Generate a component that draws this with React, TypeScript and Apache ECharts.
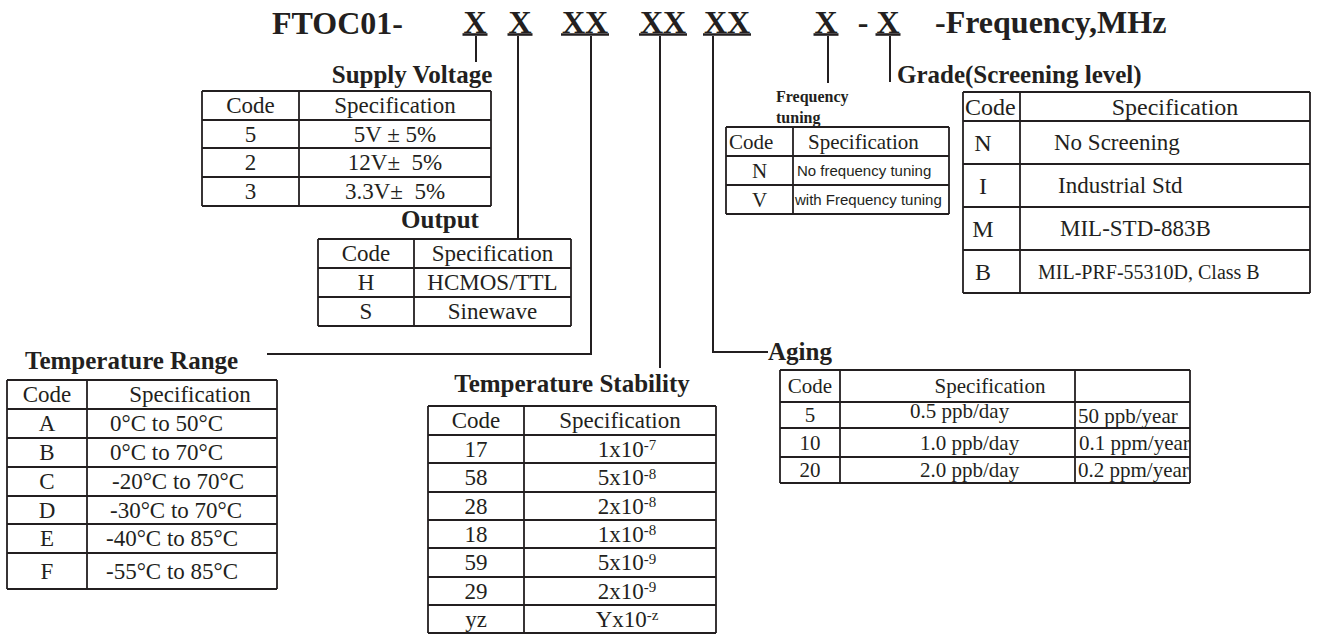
import React, { useEffect, useRef } from "react";
import * as echarts from "echarts";

// ---------- DATA ----------
const titlePrefix = "FTOC01-";
const titleSegments = ["X", "X", "XX", "XX", "XX", "X", "X"];
const titleSuffix = "-Frequency,MHz";

const headerCode = "Code";
const headerSpec = "Specification";

const supplyCodes = ["5", "2", "3"];
const supplySpecs = ["5V ± 5%", "12V±  5%", "3.3V±  5%"];

const outputCodes = ["H", "S"];
const outputSpecs = ["HCMOS/TTL", "Sinewave"];

const tempRangeCodes = ["A", "B", "C", "D", "E", "F"];
const tempRangeSpecs = ["0°C to 50°C", "0°C to 70°C", "-20°C to 70°C", "-30°C to 70°C", "-40°C to 85°C", "-55°C to 85°C"];

const stabilityCodes = ["17", "58", "28", "18", "59", "29", "yz"];
const stabilityMantissas = ["1x10", "5x10", "2x10", "1x10", "5x10", "2x10", "Yx10"];
const stabilityExponents = ["-7", "-8", "-8", "-8", "-9", "-9", "-z"];

const agingCodes = ["5", "10", "20"];
const agingDaily = ["0.5 ppb/day", "1.0 ppb/day", "2.0 ppb/day"];
const agingYearly = ["50 ppb/year", "0.1 ppm/year", "0.2 ppm/year"];

const tuningCodes = ["N", "V"];
const tuningSpecs = ["No frequency tuning", "with Frequency tuning"];

const gradeCodes = ["N", "I", "M", "B"];
const gradeSpecs = ["No Screening", "Industrial Std", "MIL-STD-883B", "MIL-PRF-55310D, Class B"];

const labels = {
  supply: "Supply Voltage",
  output: "Output",
  tempRange: "Temperature Range",
  stability: "Temperature Stability",
  aging: "Aging",
  grade: "Grade(Screening level)",
  tuning1: "Frequency",
  tuning2: "tuning",
};

// ---------- LAYOUT ----------
const SERIF = '"Liberation Serif", "Times New Roman", Times, serif';
const SANS = '"Liberation Sans", Arial, sans-serif';
const INK = "#231f20";

const T = {
  supply: { cols: [202, 299, 491], rows: [91, 120, 148, 177, 206] },
  output: { cols: [318, 414, 571], rows: [239, 268, 297, 326] },
  tempRange: { cols: [7, 87, 277], rows: [380, 409, 438, 467, 496, 524, 553, 589] },
  stability: { cols: [428, 524, 716], rows: [406, 435, 463, 492, 520, 548, 577, 605, 633] },
  tuning: { cols: [726, 793, 949], rows: [127, 156, 185, 214] },
  grade: { cols: [963, 1020, 1310], rows: [92, 121, 164, 207, 250, 293] },
  aging: { cols: [780, 840, 1075, 1190], rows: [370, 402, 428, 457, 483] },
};

const segCenters = [475, 520, 585, 663, 727, 826, 888];

function line(x1: number, y1: number, x2: number, y2: number, lw = 1.8) {
  return { type: "line", silent: true, shape: { x1, y1, x2, y2 }, style: { stroke: INK, lineWidth: lw } };
}
function polyline(points: number[][], lw = 1.8) {
  return { type: "polyline", silent: true, shape: { points }, style: { stroke: INK, lineWidth: lw, fill: null } };
}
function txt(text: string, x: number, y: number, size: number, o: any = {}) {
  return {
    type: "text",
    silent: true,
    x,
    y,
    style: {
      text,
      fill: INK,
      fontSize: size,
      fontFamily: o.family || SERIF,
      fontWeight: o.weight || "normal",
      align: o.align || "center",
      verticalAlign: "middle",
      rich: o.rich,
    },
  };
}

type Col = {
  header: string;
  values: string[];
  align?: string;
  x?: number | number[];
  size?: number;
  sizes?: number[];
  family?: string;
  hx?: number;
  halign?: string;
  hsize?: number;
  rich?: any;
  dy?: number[];
};

function table(t: { cols: number[]; rows: number[] }, columns: Col[], lw = 1.8) {
  const els: any[] = [];
  const { cols, rows } = t;
  const x0 = cols[0], x1 = cols[cols.length - 1];
  const y0 = rows[0], y1 = rows[rows.length - 1];
  rows.forEach((y) => els.push(line(x0, y, x1, y, lw)));
  cols.forEach((x) => els.push(line(x, y0, x, y1, lw)));
  columns.forEach((c, j) => {
    const cx = (cols[j] + cols[j + 1]) / 2;
    const size = c.size || 22;
    if (c.header) {
      els.push(txt(c.header, c.hx ?? cx, (rows[0] + rows[1]) / 2, c.hsize || size, { align: c.halign || "center" }));
    }
    c.values.forEach((v, i) => {
      const cy = (rows[i + 1] + rows[i + 2]) / 2 + (c.dy ? c.dy[i] : 0);
      const xx = Array.isArray(c.x) ? c.x[i] : c.x ?? cx;
      const sz = c.sizes ? c.sizes[i] : size;
      els.push(txt(v, xx, cy, sz, { align: c.align || "center", family: c.family, rich: c.rich }));
    });
  });
  return els;
}

function buildElements() {
  const els: any[] = [];
  els.push({ type: "rect", silent: true, shape: { x: 0, y: 0, width: 1319, height: 641 }, style: { fill: "#fff" } });

  // title row
  const TY = 22;
  els.push(txt(titlePrefix, 272, TY + 1, 32, { weight: "bold", align: "left" }));
  titleSegments.forEach((s, i) => {
    const c = segCenters[i];
    els.push(txt(s, c, TY, 32, { weight: "bold" }));
    const hw = s.length * 11.5 + 1;
    els.push(line(c - hw, 34.5, c + hw, 34.5, 2.6));
  });
  els.push(txt("-", 863, TY, 32, { weight: "bold" }));
  els.push(txt(titleSuffix, 935, TY, 32, { weight: "bold", align: "left" }));

  // connectors
  els.push(line(476, 36, 476, 62, 2));
  els.push(line(518, 36, 518, 239, 2));
  els.push(polyline([[591, 36], [591, 354], [267, 354]], 2));
  els.push(line(660, 36, 660, 368, 2));
  els.push(polyline([[713, 36], [713, 352], [768, 352]], 2));
  els.push(line(828, 36, 828, 83, 2));
  els.push(line(890, 36, 890, 82, 2));

  // bold labels
  els.push(txt(labels.supply, 412, 74, 25, { weight: "bold" }));
  els.push(txt(labels.output, 440, 219, 25, { weight: "bold" }));
  els.push(txt(labels.tempRange, 25, 360, 25, { weight: "bold", align: "left" }));
  els.push(txt(labels.stability, 572, 383, 25, { weight: "bold" }));
  els.push(txt(labels.aging, 768, 351, 25, { weight: "bold", align: "left" }));
  els.push(txt(labels.grade, 897, 74, 25, { weight: "bold", align: "left" }));
  els.push(txt(labels.tuning1, 776, 96, 16, { weight: "bold", align: "left" }));
  els.push(txt(labels.tuning2, 776, 117, 16, { weight: "bold", align: "left" }));

  // tables
  els.push(
    ...table(T.supply, [
      { header: headerCode, values: supplyCodes, size: 23 },
      { header: headerSpec, values: supplySpecs, size: 23 },
    ])
  );
  els.push(
    ...table(T.output, [
      { header: headerCode, values: outputCodes, size: 23 },
      { header: headerSpec, values: outputSpecs, size: 23 },
    ])
  );
  els.push(
    ...table(T.tempRange, [
      { header: headerCode, values: tempRangeCodes, size: 23 },
      { header: headerSpec, values: tempRangeSpecs, size: 23, align: "left", x: [110, 110, 112, 110, 106, 106], hx: 190 },
    ])
  );
  const stabRich = {
    m: { fontSize: 23, fontFamily: SERIF, fill: INK },
    e: { fontSize: 15, fontFamily: SERIF, fill: INK, verticalAlign: "top", padding: [0, 0, 6, 0] },
  };
  els.push(
    ...table(T.stability, [
      { header: headerCode, values: stabilityCodes, size: 23 },
      {
        header: headerSpec,
        values: stabilityMantissas.map((m, i) => `{m|${m}}{e|${stabilityExponents[i]}}`),
        size: 23,
        rich: stabRich,
        x: 627,
      },
    ])
  );
  els.push(
    ...table(T.tuning, [
      { header: headerCode, values: tuningCodes, size: 21, hx: 729, halign: "left" },
      { header: headerSpec, values: tuningSpecs, size: 15, family: SANS, align: "left", x: [797, 795], hx: 808, halign: "left", hsize: 21 },
    ])
  );
  els.push(
    ...table(T.grade, [
      { header: headerCode, values: gradeCodes, size: 24, x: 983, hx: 965, halign: "left" },
      {
        header: headerSpec,
        values: gradeSpecs,
        size: 23,
        sizes: [23, 23, 23, 20],
        align: "left",
        x: [1054, 1058, 1060, 1038],
        hx: 1175,
        hsize: 24,
      },
    ])
  );
  els.push(
    ...table(T.aging, [
      { header: headerCode, values: agingCodes, size: 21 },
      { header: headerSpec, values: agingDaily, size: 21, align: "left", x: [910, 920, 920], hx: 990, dy: [-4, 0, 0] },
      { header: "", values: agingYearly, size: 21, align: "left", x: [1078, 1079, 1078], dy: [1, 0, 0] },
    ])
  );
  return els;
}

export default function App() {
  const ref = useRef<HTMLDivElement>(null);
  useEffect(() => {
    document.body.style.margin = "0";
    const chart = echarts.init(ref.current!, null, { renderer: "svg" });
    chart.setOption({
      animation: false,
      backgroundColor: "#ffffff",
      graphic: { elements: buildElements() },
    });
    return () => chart.dispose();
  }, []);
  return <div ref={ref} style={{ width: 1319, height: 641 }} />;
}
